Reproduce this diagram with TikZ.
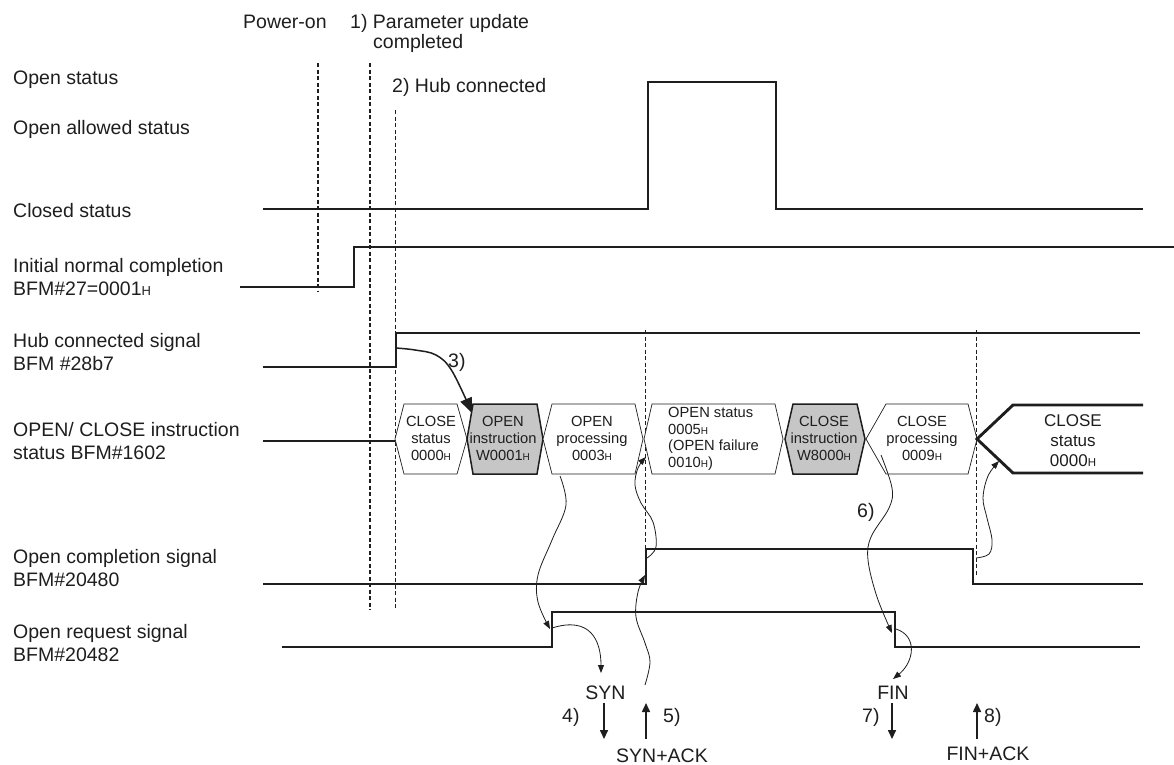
\documentclass[tikz,border=0pt]{standalone}
\usepackage{fontspec}
\setmainfont{Liberation Sans}
\usetikzlibrary{arrows.meta}
\definecolor{ink}{HTML}{1E1E1E}
\definecolor{hexgray}{HTML}{C6C6C6}
\newcommand{\Hsub}[1]{{\fontsize{#1}{#1}\selectfont H}}
\begin{document}
\begin{tikzpicture}[x=1pt,y=-1pt,
  lbl/.style={anchor=base west,inner sep=0pt,font=\fontsize{19.5}{23}\selectfont,text=ink},
  clbl/.style={anchor=base,inner sep=0pt,font=\fontsize{19.5}{23}\selectfont,text=ink},
  hextxt/.style={inner sep=0pt,align=center,font=\fontsize{14.7}{16.7}\selectfont,text=ink},
  thinsig/.style={draw=ink,line width=1.2pt},
  thicksig/.style={draw=ink,line width=2.9pt,line join=miter},
  dashline/.style={draw=ink,line width=1.2pt,dash pattern=on 4pt off 2.5pt},
  dashthin/.style={draw=ink,line width=0.9pt,dash pattern=on 4pt off 2.5pt},
  whitehex/.style={draw=ink,line width=0.7pt,fill=white},
  grayhex/.style={draw=ink,line width=1.5pt,fill=hexgray,line join=miter},
  curvearrow/.style={draw=ink,line width=0.8pt,-{Triangle[length=8pt,width=6pt]}},
  msgarrow/.style={draw=ink,line width=1.6pt,-{Triangle[length=9pt,width=8pt]}}
]
\useasboundingbox (0,0) rectangle (1174,764);

% ---------------- left labels ----------------
\node[lbl] (l1) at (13,84) {Open status};
\node[lbl] (l2) at (13,134) {Open allowed status};
\node[lbl] (l3) at (13,217) {Closed status};
\node[lbl] (l4a) at (13,272) {Initial normal completion};
\node[lbl] (l4b) at (13,295) {BFM\#27=0001\Hsub{13}};
\node[lbl] (l5a) at (13,347) {Hub connected signal};
\node[lbl] (l5b) at (13,370) {BFM \#28b7};
\node[lbl] (l6a) at (13,436) {OPEN/ CLOSE instruction};
\node[lbl] (l6b) at (13,459) {status BFM\#1602};
\node[lbl] (l7a) at (13,563) {Open completion signal};
\node[lbl] (l7b) at (13,586) {BFM\#20480};
\node[lbl] (l8a) at (13,638) {Open request signal};
\node[lbl] (l8b) at (13,661) {BFM\#20482};

% ---------------- top labels ----------------
\node[lbl] (pon) at (243,28) {Power-on};
\node[lbl] (par1) at (350,28) {1) Parameter update};
\node[lbl] (par2) at (373,48) {completed};
\node[lbl] (hubc) at (392,92) {2) Hub connected};

% ---------------- dashed event lines ----------------
\draw[dashline] (318,63) -- (318,291);
\draw[dashline] (370,63) -- (370,610);
\draw[dashthin] (395,110) -- (395,610);
\draw[dashthin] (645,330) -- (645,575);
\draw[dashthin] (976,330) -- (976,576);

% ---------------- signals ----------------
\draw[thicksig] (263,209) -- (648,209) -- (648,82) -- (776,82) -- (776,209) -- (1143,209);
\draw[thinsig] (240,287) -- (354,287) -- (354,247) -- (1174,247);
\draw[thinsig] (263,367) -- (396,367) -- (396,333) -- (1140,333);
\draw[thinsig] (263,441) -- (395,441);
\draw[thinsig] (263,584) -- (646,584) -- (646,549) -- (973,549) -- (973,584) -- (1143,584);
\draw[thinsig] (282,647) -- (552,647) -- (552,612) -- (895,612) -- (895,647) -- (1140,647);

% ---------------- hexagons ----------------
\path[whitehex] (395,439) -- (404,404) -- (457,404) -- (467,439) -- (457,474) -- (404,474) -- cycle;
\path[grayhex] (467,439) -- (473,404) -- (537,404) -- (543,439) -- (537,474) -- (473,474) -- cycle;
\path[whitehex] (543,439) -- (552,404) -- (635,404) -- (643,439) -- (635,474) -- (552,474) -- cycle;
\path[whitehex] (644,439) -- (652,404) -- (775,404) -- (783,439) -- (775,474) -- (652,474) -- cycle;
\path[grayhex] (785,439) -- (793,404) -- (857,404) -- (865,439) -- (857,474) -- (793,474) -- cycle;
\path[whitehex] (866,439) -- (886,404) -- (968,404) -- (977,439) -- (968,474) -- (886,474) -- cycle;
\draw[thicksig] (1143,405) -- (1013,405) -- (977,439) -- (1013,473) -- (1143,473);

\node[hextxt] (h1) at (431,438.5) {CLOSE\\status\\0000\Hsub{10}};
\node[hextxt] (h2) at (503,438.5) {OPEN\\instruction\\W0001\Hsub{10}};
\node[hextxt] (h3) at (592,438.5) {OPEN\\processing\\0003\Hsub{10}};
\node[hextxt,align=left,anchor=west] (h4) at (668,439) {OPEN status\\0005\Hsub{10}\\(OPEN failure\\0010\Hsub{10})};
\node[hextxt] (h5) at (824,438.5) {CLOSE\\instruction\\W8000\Hsub{10}};
\node[hextxt] (h6) at (922,438.5) {CLOSE\\processing\\0009\Hsub{10}};
\node[hextxt,font=\fontsize{17}{20}\selectfont] (h7) at (1073,441) {CLOSE\\status\\0000\Hsub{11.5}};

% ---------------- step labels ----------------
\node[lbl] (s3) at (448,367) {3)};
\node[lbl] (s6) at (857,517) {6)};
\node[lbl] (s4) at (562,722) {4)};
\node[lbl] (s5) at (663,722) {5)};
\node[lbl] (s7) at (862,722) {7)};
\node[lbl] (s8) at (984,722) {8)};
\node[clbl] (syn) at (605.5,699) {SYN};
\node[clbl] (synack) at (662,762) {SYN+ACK};
\node[clbl] (fin) at (893,699) {FIN};
\node[clbl] (finack) at (988,760) {FIN+ACK};

% ---------------- message arrows ----------------
\coordinate (a4s) at (604,703); \coordinate (a4e) at (604,739);
\coordinate (a5s) at (646,739); \coordinate (a5e) at (646,703);
\coordinate (a7s) at (892,703); \coordinate (a7e) at (892,739);
\coordinate (a8s) at (977,739); \coordinate (a8e) at (977,703);
\draw[msgarrow] (a4s) -- (a4e);
\draw[msgarrow] (a5s) -- (a5e);
\draw[msgarrow] (a7s) -- (a7e);
\draw[msgarrow] (a8s) -- (a8e);

% ---------------- curved arrows ----------------
\draw[draw=ink,line width=1.5pt,-{Triangle[length=15pt,width=12pt]}]
  plot[smooth,tension=0.6] coordinates {(396,348) (415,350) (436,355) (452,371) (472,413)};
\draw[curvearrow] plot[smooth,tension=0.6] coordinates
  {(560,476) (566,505) (552,540) (538,575) (538,602) (550,629)};
\draw[curvearrow] (552,628) .. controls (590,616) and (601,640) .. (601,673);
\draw[curvearrow] plot[smooth,tension=0.6] coordinates
  {(645,685) (650,662) (645,643) (636,617) (638,592) (645,575)};
\draw[curvearrow] plot[smooth,tension=0.6] coordinates
  {(647,558) (656,547) (653,522) (641,503) (635,485) (638,468) (646,457)};
\draw[curvearrow] plot[smooth,tension=0.6] coordinates
  {(881,455) (892,488) (889,508) (871,537) (868,560) (877,597) (892,633)};
\draw[curvearrow] (896,629) .. controls (918,636) and (914,662) .. (893,679);
\draw[curvearrow] plot[smooth,tension=0.6] coordinates
  {(976,558) (989,554) (992,540) (987,518) (983,498) (988,476) (999,461)};
\end{tikzpicture}
\end{document}
